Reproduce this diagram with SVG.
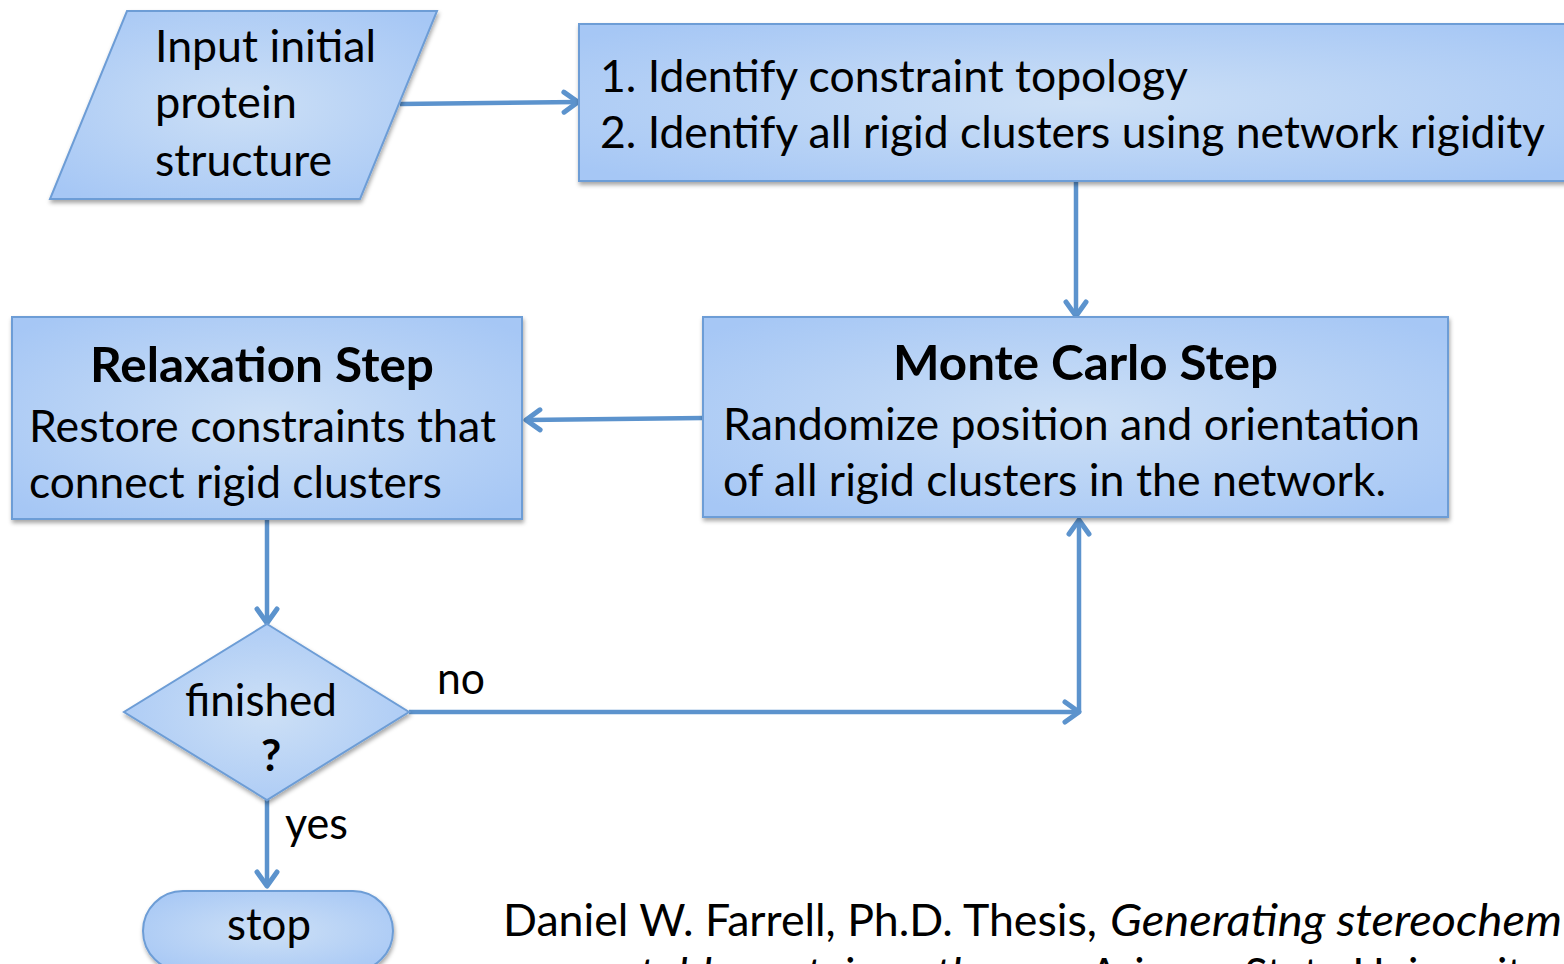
<svg xmlns="http://www.w3.org/2000/svg" width="1564" height="964" viewBox="0 0 1564 964">
<defs>
<radialGradient id="fillG" cx="50%" cy="50%" r="65%">
<stop offset="0" stop-color="#cde0f6"/>
<stop offset="1" stop-color="#a6c7f5"/>
</radialGradient>
<filter id="sh" x="-10%" y="-10%" width="130%" height="140%">
<feDropShadow dx="1" dy="3" stdDeviation="2" flood-color="#000" flood-opacity="0.35"/>
</filter>
<marker id="arr" markerUnits="userSpaceOnUse" markerWidth="30" markerHeight="30" viewBox="0 0 30 30" refX="24" refY="15" orient="auto">
<path d="M10,5 L24,15 L10,25" fill="none" stroke="#5c93cd" stroke-width="5" stroke-linecap="round" stroke-linejoin="round"/>
</marker>
<style>
.shape{fill:url(#fillG);stroke:#6d9dd6;stroke-width:2;filter:url(#sh)}
.t{font-family:Lato,"Open Sans",sans-serif;font-size:44px;fill:#000}
.b{font-family:Lato,"Open Sans",sans-serif;font-size:48px;font-weight:bold;fill:#000}
.i{font-style:italic}
.c{fill:none;stroke:#5c93cd;stroke-width:4.5;marker-end:url(#arr)}
</style>
</defs>
<rect width="1564" height="964" fill="#fff"/>

<g id="connectors">
<path class="c" d="M400,104 L578,102"/>
<path class="c" d="M1076,182 L1076,316"/>
<path class="c" d="M703,418 L526,420"/>
<path class="c" d="M267,520 L267,623"/>
<path class="c" d="M409,712 L1079,712"/>
<path class="c" d="M1079,712 L1079,520"/>
<path class="c" d="M267,800 L267,886"/>
</g>

<g id="input">
<polygon class="shape" points="127,11 437,11 360,199 50,199"/>
<text class="t" x="155" y="62" textLength="221" lengthAdjust="spacingAndGlyphs">Input initial</text>
<text class="t" x="155" y="118" textLength="142" lengthAdjust="spacingAndGlyphs">protein</text>
<text class="t" x="155" y="176" textLength="177" lengthAdjust="spacingAndGlyphs">structure</text>
</g>

<g id="identify">
<rect class="shape" x="579" y="24" width="1010" height="157"/>
<text class="t" x="600" y="92" textLength="588" lengthAdjust="spacingAndGlyphs">1. Identify constraint topology</text>
<text class="t" x="600" y="148" textLength="945" lengthAdjust="spacingAndGlyphs">2. Identify all rigid clusters using network rigidity</text>
</g>

<g id="montecarlo">
<rect class="shape" x="703" y="317" width="745" height="200"/>
<text class="b" x="893" y="380" textLength="385" lengthAdjust="spacingAndGlyphs">Monte Carlo Step</text>
<text class="t" x="723" y="440" textLength="697" lengthAdjust="spacingAndGlyphs">Randomize position and orientation</text>
<text class="t" x="723" y="496" textLength="663" lengthAdjust="spacingAndGlyphs">of all rigid clusters in the network.</text>
</g>

<g id="relaxation">
<rect class="shape" x="12" y="317" width="510" height="202"/>
<text class="b" x="90" y="382" textLength="344" lengthAdjust="spacingAndGlyphs">Relaxation Step</text>
<text class="t" x="29" y="442" textLength="467" lengthAdjust="spacingAndGlyphs">Restore constraints that</text>
<text class="t" x="29" y="498" textLength="413" lengthAdjust="spacingAndGlyphs">connect rigid clusters</text>
</g>

<g id="decision">
<polygon class="shape" points="267,624 409,712 267,800 124,712"/>
<text class="t" x="185" y="716" textLength="152" lengthAdjust="spacingAndGlyphs">finished</text>
<text class="b" x="271" y="771" text-anchor="middle" style="font-size:44px">?</text>
</g>

<g id="labels">
<text class="t" x="437" y="694" textLength="48" lengthAdjust="spacingAndGlyphs">no</text>
<text class="t" x="285" y="839" textLength="63" lengthAdjust="spacingAndGlyphs">yes</text>
</g>

<g id="stop">
<rect class="shape" x="143" y="891" width="250" height="80" rx="40" ry="40"/>
<text class="t" x="227" y="940" textLength="84" lengthAdjust="spacingAndGlyphs">stop</text>
</g>

<g id="citation">
<text class="t" x="503" y="936" textLength="594" lengthAdjust="spacingAndGlyphs">Daniel W. Farrell, Ph.D. Thesis,</text>
<text class="t i" x="1110" y="936" textLength="452" lengthAdjust="spacingAndGlyphs">Generating stereochem</text>
<text class="t i" x="530" y="990" textLength="540" lengthAdjust="spacingAndGlyphs">acceptable protein pathways</text>
<text class="t" x="1070" y="990" textLength="475" lengthAdjust="spacingAndGlyphs">, Arizona State University</text>
</g>
</svg>
